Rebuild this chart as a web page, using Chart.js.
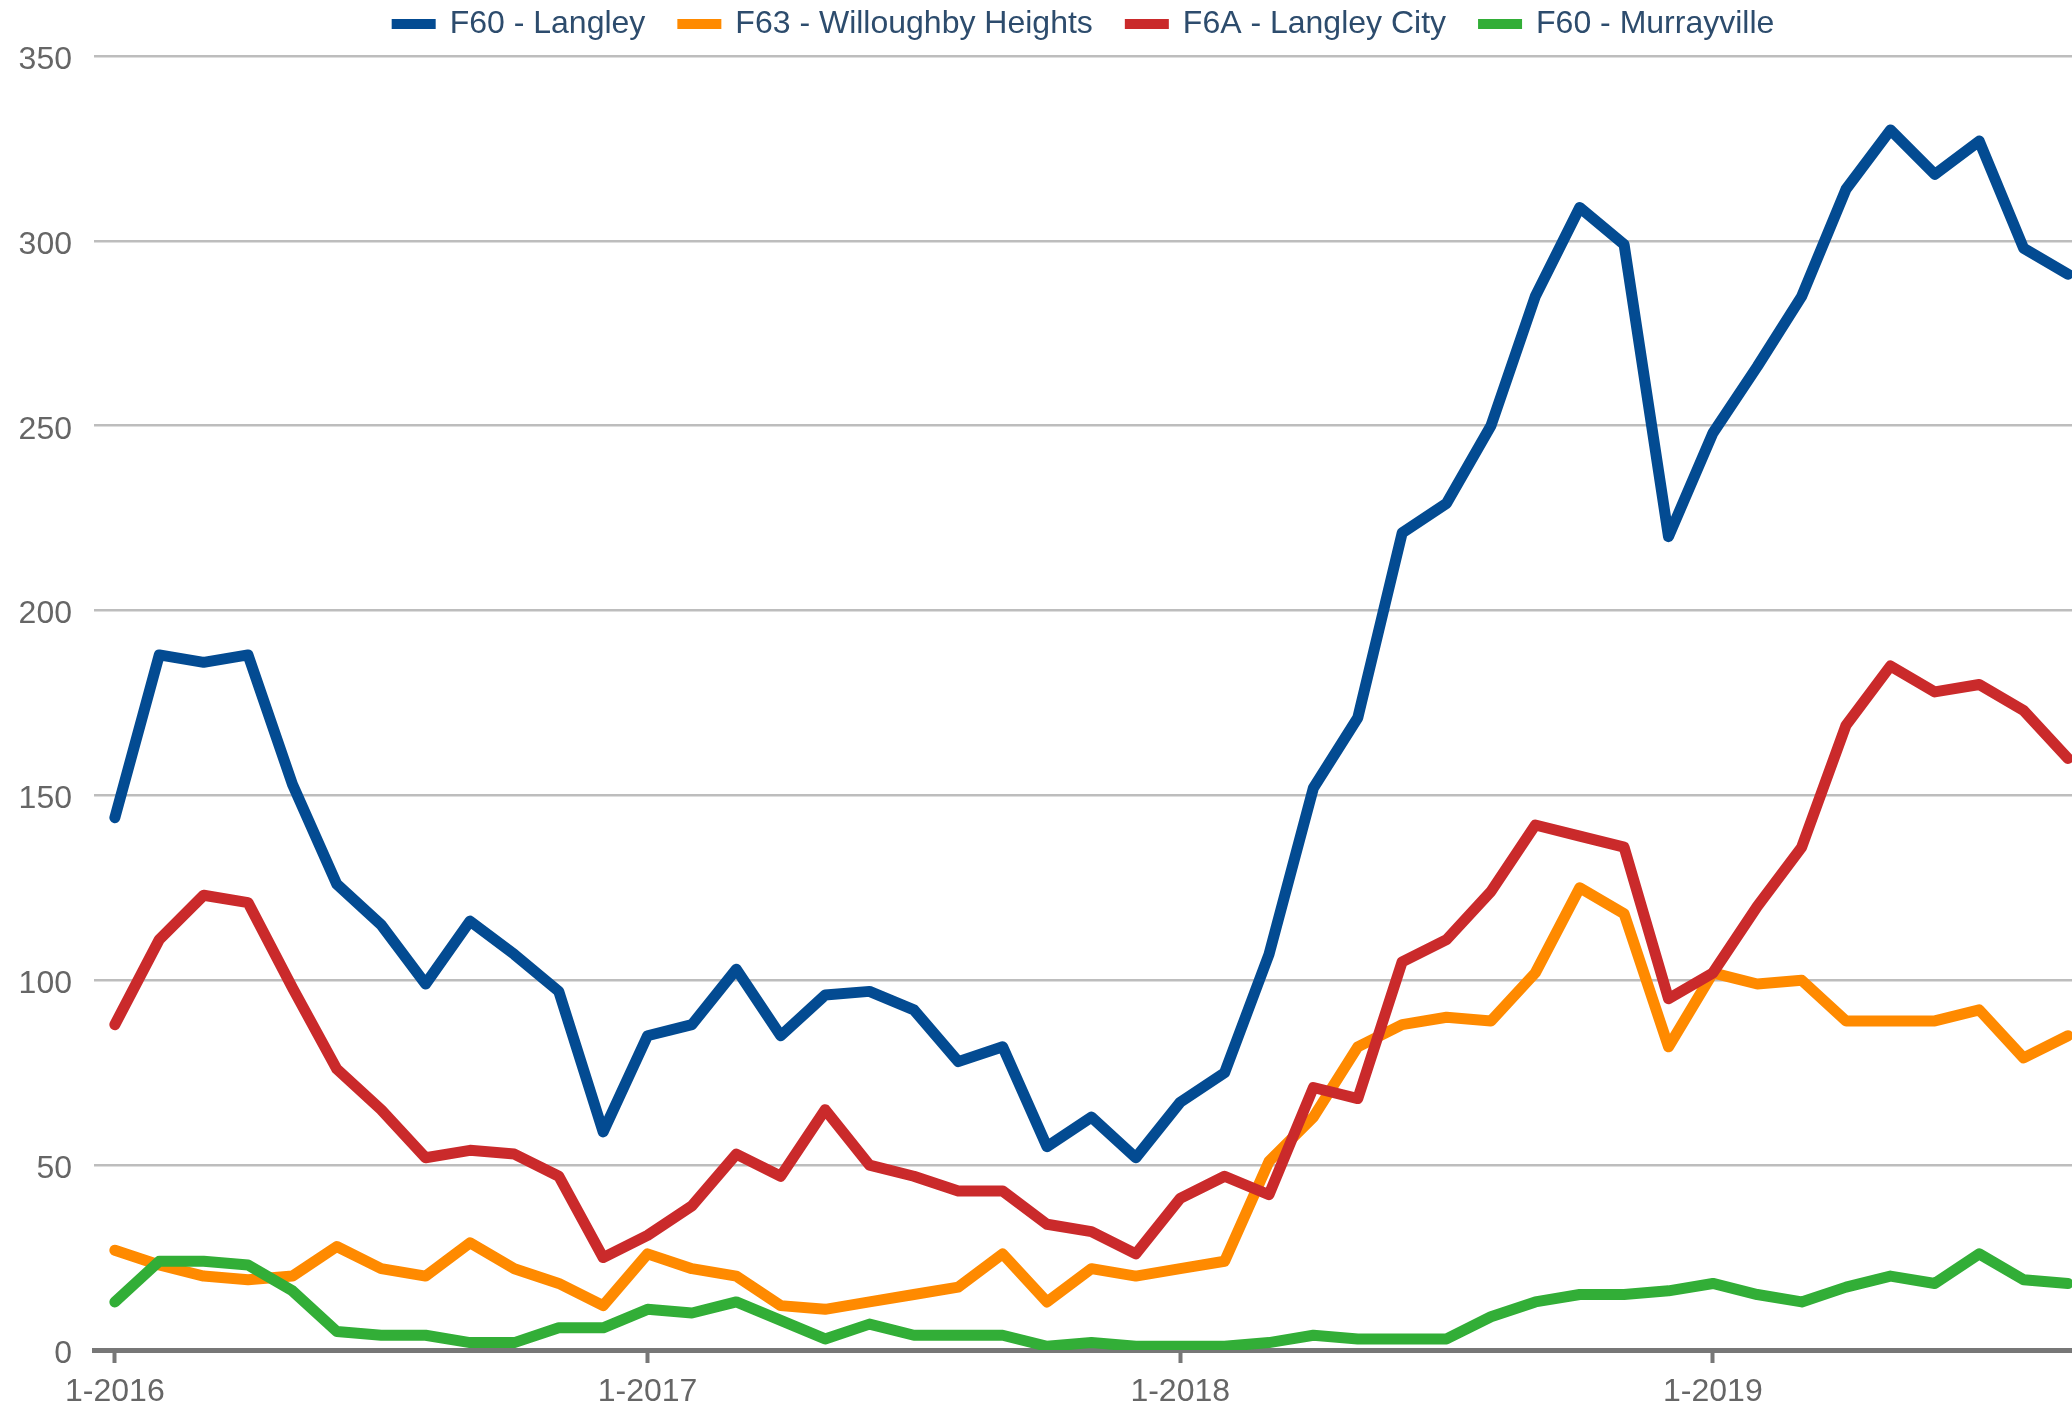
<!DOCTYPE html>
<html>
<head>
<meta charset="utf-8">
<script src="https://cdn.jsdelivr.net/npm/chart.js@4.4.1/dist/chart.umd.min.js"></script>
<style>
  html, body { margin: 0; padding: 0; background: #fff; }
  #wrap { width: 2072px; height: 1409px; position: relative; }
</style>
</head>
<body>
<div id="wrap"><canvas id="c"></canvas></div>
<script>
// ---- Data ----
const months = [
  '1-2016','2-2016','3-2016','4-2016','5-2016','6-2016','7-2016','8-2016','9-2016','10-2016','11-2016','12-2016',
  '1-2017','2-2017','3-2017','4-2017','5-2017','6-2017','7-2017','8-2017','9-2017','10-2017','11-2017','12-2017',
  '1-2018','2-2018','3-2018','4-2018','5-2018','6-2018','7-2018','8-2018','9-2018','10-2018','11-2018','12-2018',
  '1-2019','2-2019','3-2019','4-2019','5-2019','6-2019','7-2019','8-2019','9-2019'
];
const seriesNames = ['F60 - Langley', 'F63 - Willoughby Heights', 'F6A - Langley City', 'F60 - Murrayville'];
const langley = [144, 188, 186, 188, 153, 126, 115, 99, 116, 107, 97, 59, 85, 88, 103, 85, 96, 97, 92, 78, 82, 55, 63, 52, 67, 75, 107, 152, 171, 221, 229, 250, 285, 309, 299, 220, 248, 266, 285, 314, 330, 318, 327, 298, 291];
const willoughby = [27, 23, 20, 19, 20, 28, 22, 20, 29, 22, 18, 12, 26, 22, 20, 12, 11, 13, 15, 17, 26, 13, 22, 20, 22, 24, 51, 63, 82, 88, 90, 89, 102, 125, 118, 82, 102, 99, 100, 89, 89, 89, 92, 79, 85];
const langleyCity = [88, 111, 123, 121, 98, 76, 65, 52, 54, 53, 47, 25, 31, 39, 53, 47, 65, 50, 47, 43, 43, 34, 32, 26, 41, 47, 42, 71, 68, 105, 111, 124, 142, 139, 136, 95, 102, 120, 136, 169, 185, 178, 180, 173, 160];
const murrayville = [13, 24, 24, 23, 16, 5, 4, 4, 2, 2, 6, 6, 11, 10, 13, 8, 3, 7, 4, 4, 4, 1, 2, 1, 1, 1, 2, 4, 3, 3, 3, 9, 13, 15, 15, 16, 18, 15, 13, 17, 20, 18, 26, 19, 18];
const yTicks = [0, 50, 100, 150, 200, 250, 300, 350];

// ---- Styles ----
const FONT = '"Liberation Sans", Arial, Helvetica, sans-serif';
const colors = ['#034b92', '#ff8a00', '#ca2a2b', '#32ae37'];
const allSeries = [langley, willoughby, langleyCity, murrayville];

const toPoints = arr => arr.map((v, i) => ({ x: i, y: v }));

const datasets = allSeries.map((arr, k) => ({
  label: seriesNames[k],
  data: toPoints(arr),
  borderColor: colors[k],
  backgroundColor: colors[k],
  borderWidth: 11,
  pointRadius: 0,
  pointHoverRadius: 0,
  tension: 0,
  fill: false,
  borderJoinStyle: 'round',
  borderCapStyle: 'round',
  order: allSeries.length - 1 - k
}));

const topLegend = {
  id: 'topLegend',
  afterDraw(chart) {
    const ctx = chart.ctx;
    ctx.save();
    ctx.font = '32px ' + FONT;
    ctx.textBaseline = 'middle';
    ctx.textAlign = 'left';
    const boxW = 44, boxH = 10, gap = 14, spacing = 32;
    const items = chart.data.datasets.map(d => ({ text: d.label, color: d.borderColor, w: ctx.measureText(d.label).width }));
    const total = items.reduce((s, it) => s + boxW + gap + it.w, 0) + spacing * (items.length - 1);
    const ca = chart.chartArea;
    let x = (ca.left + ca.right) / 2 - total / 2;
    const cy = 24;
    items.forEach(it => {
      ctx.fillStyle = it.color;
      ctx.fillRect(x, cy - boxH / 2, boxW, boxH);
      x += boxW + gap;
      ctx.fillStyle = '#2d4c6d';
      ctx.fillText(it.text, x, cy);
      x += it.w + spacing;
    });
    ctx.restore();
  }
};

new Chart(document.getElementById('c'), {
  type: 'line',
  data: { datasets },
  options: {
    responsive: true,
    maintainAspectRatio: false,
    devicePixelRatio: 1,
    animation: false,
    layout: { padding: { top: 56, right: 0, bottom: 0, left: 0 } },
    plugins: {
      legend: { display: false },
      tooltip: { enabled: false }
    },
    scales: {
      x: {
        type: 'linear',
        min: -0.47,
        max: 44.09,
        afterBuildTicks(scale) {
          scale.ticks = months.map((m, i) => ({ value: i, m })).filter(t => t.m.startsWith('1-')).map(t => ({ value: t.value }));
        },
        afterFit(scale) { scale.height = 59; },
        ticks: {
          callback: v => months[v],
          color: '#666',
          font: { family: FONT, size: 32 },
          padding: 10,
          maxRotation: 0,
          autoSkip: false
        },
        grid: {
          display: true,
          drawOnChartArea: false,
          drawTicks: true,
          tickLength: 13,
          tickWidth: 4,
          tickColor: '#777'
        },
        border: { display: true, color: '#777', width: 5 }
      },
      y: {
        min: 0,
        max: 350,
        afterBuildTicks(scale) { scale.ticks = yTicks.map(v => ({ value: v })); },
        afterFit(scale) { scale.width = 94; },
        ticks: {
          color: '#666',
          font: { family: FONT, size: 32 },
          padding: 22,
          labelOffset: 4
        },
        grid: {
          color: '#bdbdbd',
          lineWidth: 2.5,
          drawTicks: false
        },
        border: { display: false }
      }
    }
  },
  plugins: [topLegend]
});
</script>
</body>
</html>
